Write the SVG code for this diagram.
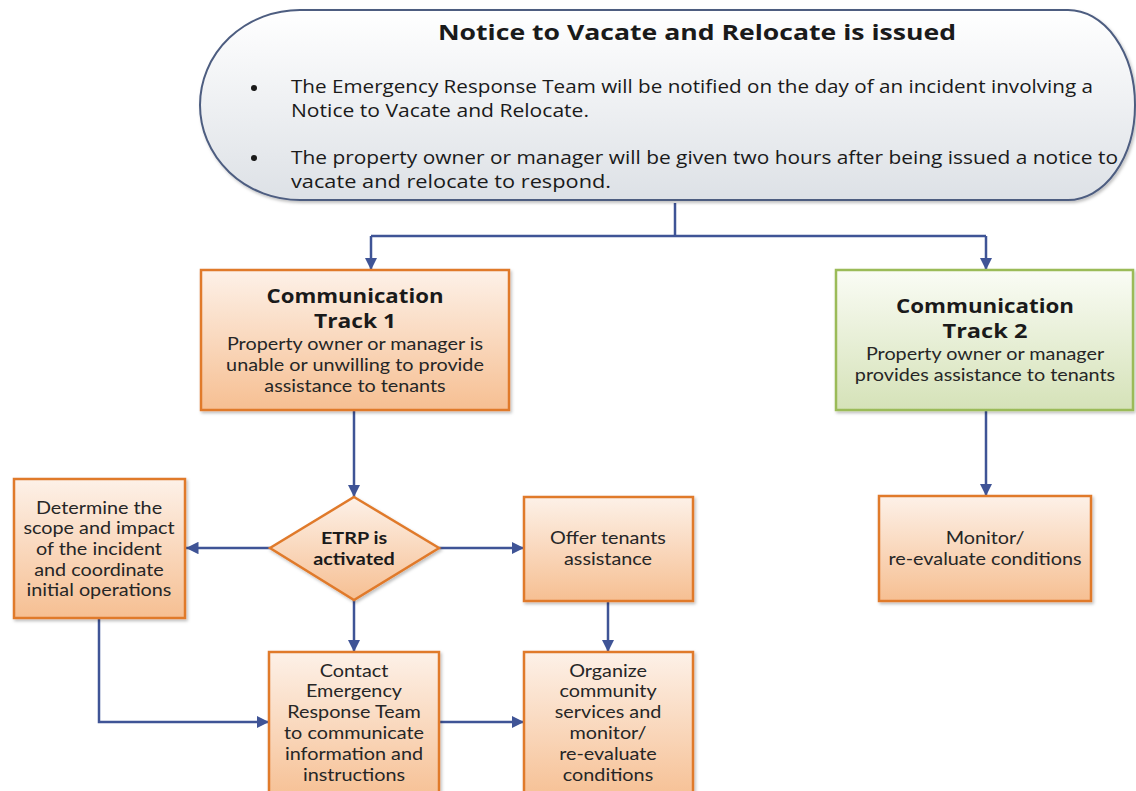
<svg xmlns="http://www.w3.org/2000/svg" width="1136" height="791" viewBox="0 0 1136 791">
<style>
.conn{fill:none;stroke:#3f5496;stroke-width:2.5}
.orange{stroke:#e07a2c;stroke-width:2.5;fill:url(#gO)}
.green{stroke:#9bbb59;stroke-width:2.5;fill:url(#gG)}
.pill{stroke:#4d5d80;stroke-width:2;fill:url(#gP)}
text{font-family:"Open Sans","Liberation Sans",sans-serif;fill:#1a1a1a;text-anchor:middle}
.tt{font-weight:bold;font-size:19px}
.bd{font-family:Lato,"Open Sans",sans-serif;font-size:16.5px;fill:#262626}
.bb{font-family:Lato,"Open Sans",sans-serif;font-size:16.5px;font-weight:bold}
.bl{font-size:18px;text-anchor:start}
</style>
<defs>
<linearGradient id="gO" x1="0" y1="0" x2="0" y2="1"><stop offset="0" stop-color="#fdf1e8"/><stop offset="1" stop-color="#f6bf92"/></linearGradient>
<linearGradient id="gG" x1="0" y1="0" x2="0" y2="1"><stop offset="0" stop-color="#fafcf5"/><stop offset="1" stop-color="#d5e2b8"/></linearGradient>
<linearGradient id="gP" x1="0" y1="0" x2="0" y2="1"><stop offset="0" stop-color="#ffffff"/><stop offset="1" stop-color="#dde1e6"/></linearGradient>
<marker id="ar" viewBox="0 0 10 10" refX="10" refY="5" markerWidth="5" markerHeight="5" orient="auto" markerUnits="strokeWidth"><path d="M0,0 L10,5 L0,10 z" fill="#3f5496"/></marker>
<filter id="sh" x="-5%" y="-5%" width="110%" height="115%"><feDropShadow dx="1.5" dy="2" stdDeviation="1.5" flood-color="#000" flood-opacity="0.25"/></filter>
</defs>

<g id="connectors">
<path class="conn" d="M675,203 V236"/>
<path class="conn" d="M371,236 H986"/>
<path class="conn" d="M371,236 V270" marker-end="url(#ar)"/>
<path class="conn" d="M986,236 V270" marker-end="url(#ar)"/>
<path class="conn" d="M986,410 V496" marker-end="url(#ar)"/>
<path class="conn" d="M354,410 V497" marker-end="url(#ar)"/>
<path class="conn" d="M270,548 H186" marker-end="url(#ar)"/>
<path class="conn" d="M439,548 H524" marker-end="url(#ar)"/>
<path class="conn" d="M354,600 V652" marker-end="url(#ar)"/>
<path class="conn" d="M608,601 V652" marker-end="url(#ar)"/>
<path class="conn" d="M99,618 V722 H269" marker-end="url(#ar)"/>
<path class="conn" d="M439,722 H524" marker-end="url(#ar)"/>
</g>

<g id="notice">
<path class="pill" filter="url(#sh)" d="M300,10 H1068 A67,95 0 0 1 1068,200 H300 A100,95 0 0 1 300,10 Z"/>
<text class="tt" x="697" y="40" style="font-size:21px" textLength="518" lengthAdjust="spacingAndGlyphs">Notice to Vacate and Relocate is issued</text>
<circle cx="254" cy="88" r="3" fill="#1a1a1a"/>
<text class="bl" x="291" y="93" textLength="802" lengthAdjust="spacingAndGlyphs">The Emergency Response Team will be notified on the day of an incident involving a</text>
<text class="bl" x="291" y="117" textLength="298" lengthAdjust="spacingAndGlyphs">Notice to Vacate and Relocate.</text>
<circle cx="254" cy="158" r="3" fill="#1a1a1a"/>
<text class="bl" x="291" y="164" textLength="827" lengthAdjust="spacingAndGlyphs">The property owner or manager will be given two hours after being issued a notice to</text>
<text class="bl" x="291" y="188" textLength="320" lengthAdjust="spacingAndGlyphs">vacate and relocate to respond.</text>
</g>

<g id="track1">
<rect class="orange" filter="url(#sh)" x="201" y="270" width="308" height="140"/>
<text class="tt" x="355" y="303" textLength="177" lengthAdjust="spacingAndGlyphs">Communication</text>
<text class="tt" x="355" y="328" textLength="82" lengthAdjust="spacingAndGlyphs">Track 1</text>
<g transform="translate(355,0) scale(1.2,1)">
<text class="bd" x="0" y="350">Property owner or manager is</text>
<text class="bd" x="0" y="371">unable or unwilling to provide</text>
<text class="bd" x="0" y="392">assistance to tenants</text>
</g>
</g>

<g id="track2">
<rect class="green" filter="url(#sh)" x="836" y="270" width="297" height="140"/>
<text class="tt" x="985" y="313" textLength="178" lengthAdjust="spacingAndGlyphs">Communication</text>
<text class="tt" x="985" y="338" textLength="85" lengthAdjust="spacingAndGlyphs">Track 2</text>
<g transform="translate(985,0) scale(1.2,1)">
<text class="bd" x="0" y="360">Property owner or manager</text>
<text class="bd" x="0" y="381">provides assistance to tenants</text>
</g>
</g>

<g id="monitor">
<rect class="orange" filter="url(#sh)" x="879" y="496" width="212" height="105"/>
<g transform="translate(985,0) scale(1.2,1)">
<text class="bd" x="0" y="544">Monitor/</text>
<text class="bd" x="0" y="565">re-evaluate conditions</text>
</g>
</g>

<g id="etrp">
<path class="orange" filter="url(#sh)" d="M354,497 L439,548 L354,600 L270,548 Z"/>
<g transform="translate(354,0) scale(1.2,1)">
<text class="bb" x="0" y="544">ETRP is</text>
<text class="bb" x="0" y="565">activated</text>
</g>
</g>

<g id="determine">
<rect class="orange" filter="url(#sh)" x="14" y="479" width="171" height="139"/>
<g transform="translate(99,0) scale(1.2,1)">
<text class="bd" x="0" y="514">Determine the</text>
<text class="bd" x="0" y="534">scope and impact</text>
<text class="bd" x="0" y="555">of the incident</text>
<text class="bd" x="0" y="576">and coordinate</text>
<text class="bd" x="0" y="596">initial operations</text>
</g>
</g>

<g id="offer">
<rect class="orange" filter="url(#sh)" x="524" y="497" width="169" height="104"/>
<g transform="translate(608,0) scale(1.2,1)">
<text class="bd" x="0" y="544">Offer tenants</text>
<text class="bd" x="0" y="565">assistance</text>
</g>
</g>

<g id="contact">
<rect class="orange" filter="url(#sh)" x="269" y="652" width="170" height="150"/>
<g transform="translate(354,0) scale(1.2,1)">
<text class="bd" x="0" y="677">Contact</text>
<text class="bd" x="0" y="697">Emergency</text>
<text class="bd" x="0" y="718">Response Team</text>
<text class="bd" x="0" y="739">to communicate</text>
<text class="bd" x="0" y="760">information and</text>
<text class="bd" x="0" y="781">instructions</text>
</g>
</g>

<g id="organize">
<rect class="orange" filter="url(#sh)" x="524" y="652" width="169" height="150"/>
<g transform="translate(608,0) scale(1.2,1)">
<text class="bd" x="0" y="677">Organize</text>
<text class="bd" x="0" y="697">community</text>
<text class="bd" x="0" y="718">services and</text>
<text class="bd" x="0" y="739">monitor/</text>
<text class="bd" x="0" y="760">re-evaluate</text>
<text class="bd" x="0" y="781">conditions</text>
</g>
</g>
</svg>
